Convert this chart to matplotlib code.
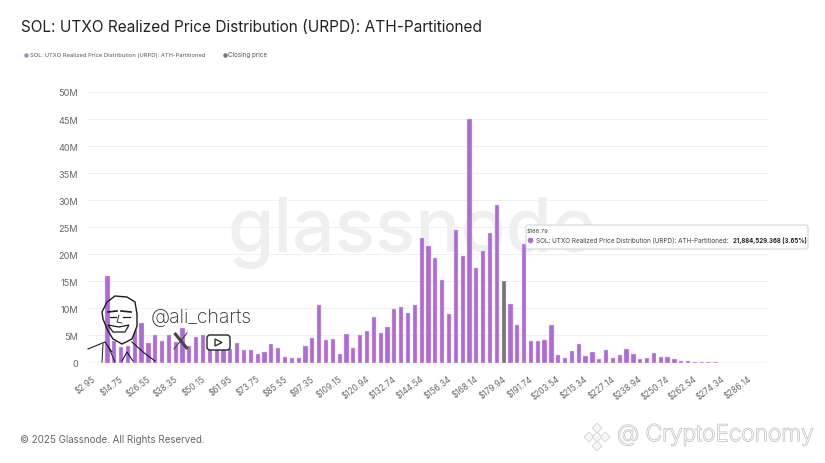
import matplotlib
matplotlib.use('Agg')
import matplotlib.pyplot as plt
import matplotlib.patheffects as pe
from matplotlib.patches import FancyBboxPatch, Polygon
from matplotlib.transforms import ScaledTranslation
import numpy as np

plt.rcParams['font.family'] = ['Inter', 'DejaVu Sans']

# bin labels, one every 4 bins
tick_labels = ['$2.95', '$14.75', '$26.55', '$38.35', '$50.15', '$61.95', '$73.75', '$85.55',
               '$97.35', '$109.15', '$120.94', '$132.74', '$144.54', '$156.34', '$168.14',
               '$179.94', '$191.74', '$203.54', '$215.34', '$227.14', '$238.94', '$250.74',
               '$262.54', '$274.34', '$286.14']

# supply per price bin, in millions
urpd = [0, 0, 16, 4, 2.8, 3, 9.3, 7.3, 3.6, 5, 4, 5, 3.7, 6.3, 3, 4.7, 5, 4, 3, 4.2,
        2.5, 3.6, 2.3, 2.3, 1.5, 2, 3.5, 2.6, 1.05, 0.75, 0.85, 3.1, 4.6, 10.7, 4.2, 4.3,
        1.5, 5.2, 2.6, 5.1, 5.9, 8.4, 5.5, 6.5, 9.8, 10.2, 9.2, 10.7, 23, 21.5, 19.4, 15.2,
        8.9, 24.4, 19.7, 45, 17.5, 20.7, 23.9, 29.1, 15, 10.9, 6.9, 21.88, 4, 4, 4.2, 7,
        1.4, 0.75, 2.1, 3.4, 1.2, 1.9, 0.6, 2.4, 0.9, 1.4, 2.5, 1.5, 0.7, 0.8, 1.8, 1.05,
        1.05, 0.6, 0.2, 0.2, 0.15, 0.1, 0.1, 0.05, 0, 0, 0, 0, 0, 0, 0, 0]
closing_bin = 60  # bin holding the closing price

y_ticks = [0, 5, 10, 15, 20, 25, 30, 35, 40, 45, 50]
y_labels = ['0', '5M', '10M', '15M', '20M', '25M', '30M', '35M', '40M', '45M', '50M']

W, H = 825, 464
PURPLE = '#ad6bd6'
GREY = '#757575'

fig = plt.figure(figsize=(W / 100, H / 100), dpi=100, facecolor='white')


def px_axes(left, top, right, bottom, **kw):
    return fig.add_axes([left / W, 1 - bottom / H, (right - left) / W, (bottom - top) / H], **kw)


# chart area
ax = px_axes(88, 93, 768, 363.5)
ax.set_zorder(2)
ax.patch.set_alpha(0)
idx = np.arange(len(urpd))
colors = [GREY if i == closing_bin else PURPLE for i in idx]
edges = ['#dddddd' if i == closing_bin else '#e6d3f2' for i in idx]
ax.bar(idx, urpd, width=0.62, color=colors, edgecolor=edges, linewidth=0.3, zorder=3)
ax.set_xlim(-0.84, 98.7)
ax.set_ylim(0, 50)
ax.set_yticks(y_ticks, y_labels, fontsize=6.6, color='#666666')
ax.set_xticks(idx[::4][:len(tick_labels)], tick_labels, fontsize=5.9, color='#666666',
              rotation=37, ha='right', rotation_mode='anchor')
ax.tick_params(axis='both', length=0, pad=7)
ax.tick_params(axis='x', pad=8)
for lbl in ax.get_xticklabels():
    lbl.set_transform(lbl.get_transform() + ScaledTranslation(-1.5 / 100, 0, fig.dpi_scale_trans))
ax.grid(axis='y', color='#f0f0f0', lw=0.7, zorder=0)
for s in ax.spines.values():
    s.set_visible(False)
ax.axhline(0, color='#e8d8f2', lw=1, zorder=2)

# overlay in pixel coordinates for the non data stuff
bg = px_axes(0, 0, W, H)
bg.set_xlim(0, W)
bg.set_ylim(H, 0)
bg.axis('off')
bg.set_zorder(1)
bg.text(412, 252, 'glassnode', fontsize=54, color='#efefef', ha='center', va='baseline',
        fontweight='medium')

ov = px_axes(0, 0, W, H)
ov.set_xlim(0, W)
ov.set_ylim(H, 0)
ov.axis('off')
ov.set_zorder(3)
ov.patch.set_alpha(0)

ov.text(21, 28, 'SOL: UTXO Realized Price Distribution (URPD): ATH-Partitioned',
        fontsize=11.08, color='#222222', va='center')

# legend
ov.plot([26], [55.5], 'o', ms=2.2, color='#a58ab5')
ov.text(30, 55.5, 'SOL: UTXO Realized Price Distribution (URPD): ATH-Partitioned',
        fontsize=4.2, color='#555555', va='center')
ov.plot([225], [55.5], 'o', ms=2.2, color=GREY)
ov.text(228.5, 55.5, 'Closing price', fontsize=4.5, color='#555555', va='center')

# tooltip
ov.add_patch(FancyBboxPatch((526, 226), 282, 24, boxstyle='round,pad=0,rounding_size=2',
                            fc='white', ec='#cfcfcf', lw=0.7, alpha=0.96))
ov.text(527, 232, '$188.79', fontsize=4.2, color='#444444', va='center')
ov.plot([530], [241], 'o', ms=3, color=PURPLE)
ov.text(536, 241, 'SOL: UTXO Realized Price Distribution (URPD): ATH-Partitioned:',
        fontsize=4.6, color='#444444', va='center')
ov.text(807, 241, '21,884,529.368 (3.65%)', fontsize=4.4, color='#222222', va='center',
        ha='right', fontweight='bold')

# avatar, rough sketch
lc = '#1c1c1c'
head = [[115, 297], [127, 298], [135, 303], [137, 315], [137, 327], [132, 340], [122, 345],
        [113, 340], [108, 332], [103, 320], [102, 313], [107, 303]]
face = [[111, 300], [127, 298], [135, 303], [137, 315], [137, 327], [132, 340], [122, 345],
        [113, 340], [110, 332]]
ov.add_patch(Polygon(face, fc='white', ec='none'))
ov.add_patch(Polygon(head, fc='none', ec=lc, lw=1))
ov.plot([108, 117], [313, 312], color=lc, lw=1.2)
ov.plot([121, 131], [312, 313], color=lc, lw=1.2)
ov.plot([110, 116], [318, 318], color=lc, lw=0.9)
ov.plot([123, 130], [318, 318], color=lc, lw=0.9)
ov.plot([119, 117, 122], [316, 323, 324], color=lc, lw=0.6)
ov.add_patch(Polygon([[108, 326], [119, 328], [129, 326], [125, 333], [113, 333]],
                     fc='white', ec=lc, lw=0.9))
ov.plot([88, 105, 112], [350, 343, 353], color=lc, lw=0.8)
ov.plot([103, 102], [345, 363], color=lc, lw=0.7)
ov.plot([108, 115], [347, 363], color=lc, lw=0.7)
ov.plot([132, 143, 155], [343, 353, 362], color=lc, lw=0.8)
ov.plot([122, 127, 133], [362, 353, 362], color=lc, lw=0.8)

ov.text(151, 318, '@ali_charts', fontsize=14, color='#2a2a2a', va='center', fontweight='light')
ov.plot([174.5, 187.5], [334, 350], color='#444444', lw=2.2, solid_capstyle='butt')
ov.plot([187, 174], [334, 350], color='#444444', lw=0.8)
ov.add_patch(FancyBboxPatch((207, 336), 23, 15, boxstyle='round,pad=0,rounding_size=3',
                            fc='white', ec='#222222', lw=1))
ov.add_patch(Polygon([[215, 340], [215, 347], [222, 343.5]], fc='white', ec='#222222', lw=0.9))

# footer
ov.text(20, 440, '© 2025 Glassnode. All Rights Reserved.', fontsize=7, color='#666666', va='center')

# site watermark
for cx, cy in [(597, 429), (589, 438), (605, 438), (597, 447), (597, 438)]:
    ov.add_patch(Polygon([[cx - 5, cy], [cx, cy - 5], [cx + 5, cy], [cx, cy + 5]],
                         fc='#f7f7f7', ec='#d2d2d2', lw=0.6))
ov.text(617, 436, '@ CryptoEconomy', fontsize=16.4, color='white', va='center',
        fontweight='light',
        path_effects=[pe.withStroke(linewidth=1.0, foreground='#bdbdbd')])

fig.savefig('out.png', dpi=100)
